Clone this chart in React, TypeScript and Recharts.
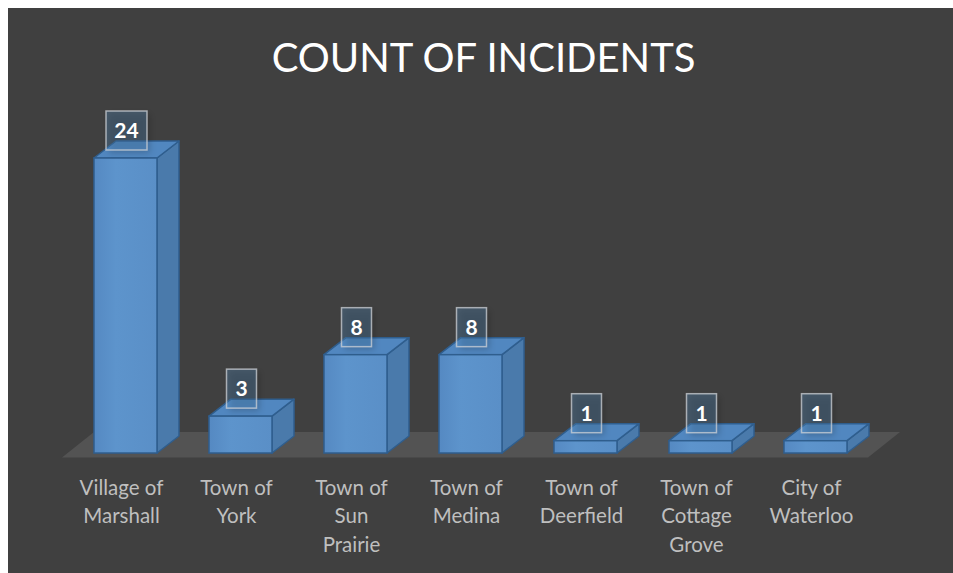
import React, { useLayoutEffect } from 'react';
import { BarChart, Bar, XAxis, YAxis, LabelList } from 'recharts';

const categories = [
  'Village of Marshall',
  'Town of York',
  'Town of Sun Prairie',
  'Town of Medina',
  'Town of Deerfield',
  'Town of Cottage Grove',
  'City of Waterloo',
];
const counts = [24, 3, 8, 8, 1, 1, 1];
const tickLabels = [
  ['Village of', 'Marshall'],
  ['Town of', 'York'],
  ['Town of', 'Sun', 'Prairie'],
  ['Town of', 'Medina'],
  ['Town of', 'Deerfield'],
  ['Town of', 'Cottage', 'Grove'],
  ['City of', 'Waterloo'],
];
const title = 'COUNT OF INCIDENTS';

const data = categories.map((name, i) => ({ name, count: counts[i] }));

const W = 945;
const H = 565;
const MARGIN = { top: 150, right: 80, bottom: 0, left: 60 };
const XAXIS_H = 120;
const FONT = 'Lato, "Open Sans", "DejaVu Sans", sans-serif';
const DX = 22;
const DY = 17;

const Bar3D = (props: any) => {
  const { x, y, width, height } = props;
  if (width == null || height == null) return null;
  const x2 = x + width;
  const yb = y + height;
  const stroke = '#2f5e8e';
  return (
    <g>
      <polygon
        points={`${x2},${y} ${x2 + DX},${y - DY} ${x2 + DX},${yb - DY} ${x2},${yb}`}
        fill="#4a7aab"
        stroke={stroke}
        strokeWidth={1.5}
        strokeLinejoin="round"
      />
      <polygon
        points={`${x},${y} ${x + DX},${y - DY} ${x2 + DX},${y - DY} ${x2},${y}`}
        fill="#5187c0"
        stroke={stroke}
        strokeWidth={1.5}
        strokeLinejoin="round"
      />
      <rect x={x} y={y} width={width} height={height} fill="url(#frontGrad)" stroke={stroke} strokeWidth={1.5} />
    </g>
  );
};

const ValueBox = (props: any) => {
  const { x, y, width, value } = props;
  const s = String(value);
  const bw = s.length > 1 ? 41 : 30;
  const bh = 39;
  const cx = x + width / 2 + 1;
  const by = y - 8 - bh;
  return (
    <g>
      <rect x={cx - bw / 2 + 3} y={by + 3} width={bw} height={bh} fill="rgba(0,0,0,0.18)" filter="url(#blur)" />
      <rect
        x={cx - bw / 2}
        y={by}
        width={bw}
        height={bh}
        fill="rgba(91,155,213,0.28)"
        stroke="rgba(205,210,215,0.75)"
        strokeWidth={1.5}
      />
      <text
        x={cx}
        y={by + bh / 2 + 7.5}
        textAnchor="middle"
        fill="#ffffff"
        fontFamily={FONT}
        fontWeight={700}
        fontSize={21}
      >
        {s}
      </text>
    </g>
  );
};

const CategoryTick = (props: any) => {
  const { x, y, payload } = props;
  const lines = tickLabels[payload.index] || [String(payload.value)];
  return (
    <text x={x - 4} y={y + 42} textAnchor="middle" fill="#bfbfbf" fontFamily={FONT} fontSize={20.5}>
      {lines.map((l, i) => (
        <tspan key={i} x={x - 4} y={y + 42 + i * 28.3}>
          {l}
        </tspan>
      ))}
    </text>
  );
};

export default function App() {
  useLayoutEffect(() => {
    document.documentElement.style.overflow = 'hidden';
    document.documentElement.style.background = '#404040';
    document.body.style.overflow = 'hidden';
    document.body.style.margin = '0';
  }, []);
  const plotLeft = MARGIN.left;
  const plotRight = W - MARGIN.right;
  const baseY = H - MARGIN.bottom - XAXIS_H;
  const floor = `${plotLeft - 6},${baseY + 4.5} ${plotRight - 5},${baseY + 4.5} ${plotRight + 27},${baseY - 21} ${plotLeft + 26},${baseY - 21}`;
  return (
    <div style={{ position: 'relative', width: 953, height: 573, background: '#ffffff', overflow: 'hidden' }}>
      <div style={{ position: 'absolute', left: 8, top: 8, width: W, height: H, background: '#404040' }}>
        <svg width={W} height={H} style={{ position: 'absolute', left: 0, top: 0 }}>
          <polygon points={floor} fill="#535353" />
          <text x={475.5} y={63.7} textAnchor="middle" fill="#ffffff" fontFamily={FONT} fontSize={40}>
            {title}
          </text>
        </svg>
        <div style={{ position: 'absolute', left: 0, top: 0 }}>
          <BarChart width={W} height={H} data={data} margin={MARGIN} barSize={63}>
            <defs>
              <linearGradient id="frontGrad" x1="0" y1="0" x2="1" y2="0">
                <stop offset="0" stopColor="#5589c2" />
                <stop offset="0.35" stopColor="#5d94cc" />
                <stop offset="1" stopColor="#5a8fc7" />
              </linearGradient>
              <filter id="blur" x="-30%" y="-30%" width="160%" height="160%">
                <feGaussianBlur stdDeviation="3" />
              </filter>
            </defs>
            <XAxis
              dataKey="name"
              height={XAXIS_H}
              axisLine={false}
              tickLine={false}
              tickSize={0}
              tickMargin={0}
              interval={0}
              tick={<CategoryTick />}
            />
            <YAxis hide domain={[0, 24]} type="number" />
            <Bar dataKey="count" shape={<Bar3D />} isAnimationActive={false}>
              <LabelList dataKey="count" content={<ValueBox />} />
            </Bar>
          </BarChart>
        </div>
      </div>
    </div>
  );
}
